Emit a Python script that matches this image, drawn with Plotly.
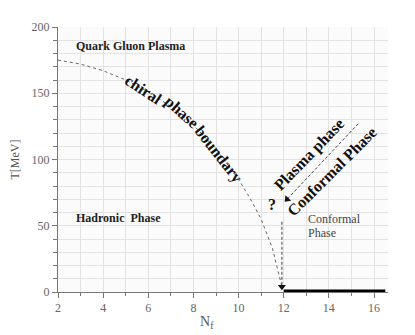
import plotly.graph_objects as go

# chiral phase boundary (dotted curve)
nf_boundary = [2, 3, 4, 5, 6, 7, 8, 9, 10, 10.5, 11, 11.5, 11.92]
t_boundary = [175, 172, 167, 160, 151, 140, 126, 108, 85, 71, 55, 33, 4]

# vertical dashed arrow at the conformal window edge
nf_edge = [11.92, 11.92]
t_edge = [53, 4]

# diagonal dashed arrow (Plasma phase -> Conformal phase)
nf_diag = [15.3, 12.15]
t_diag = [127, 70]

# conformal window bar on the Nf axis
nf_conf = [12, 16.5]
t_conf = [0, 0]

x_ticks = [2, 4, 6, 8, 10, 12, 14, 16]
y_ticks = [0, 50, 100, 150, 200]

SERIF = "Liberation Serif, DejaVu Serif, serif"

fig = go.Figure()
fig.add_trace(go.Scatter(x=nf_boundary, y=t_boundary, mode="lines",
                         line=dict(color="#666", width=1, dash="dot"),
                         hoverinfo="skip", showlegend=False))
fig.add_trace(go.Scatter(x=nf_edge, y=t_edge, mode="lines",
                         line=dict(color="#444", width=1, dash="3px,2px"),
                         hoverinfo="skip", showlegend=False))
fig.add_trace(go.Scatter(x=[nf_edge[-1]], y=[t_edge[-1]], mode="markers",
                         marker=dict(symbol="triangle-down", size=7, color="#111"),
                         hoverinfo="skip", showlegend=False))
fig.add_trace(go.Scatter(x=nf_diag, y=t_diag, mode="lines",
                         line=dict(color="#444", width=1, dash="3px,2px"),
                         hoverinfo="skip", showlegend=False))
fig.add_trace(go.Scatter(x=[nf_diag[-1]], y=[t_diag[-1]], mode="markers",
                         marker=dict(symbol="triangle-down", size=7, color="#111", angle=45),
                         hoverinfo="skip", showlegend=False))
fig.add_trace(go.Scatter(x=nf_conf, y=t_conf, mode="lines",
                         line=dict(color="#000", width=5),
                         cliponaxis=False, hoverinfo="skip", showlegend=False))

ann = []
def add(text, x, y, size, angle=0, bold=True, color="#111", xanchor="center", xref="x", yref="y", **kw):
    ann.append(dict(text=f"<b>{text}</b>" if bold else text, x=x, y=y, xref=xref, yref=yref,
                    showarrow=False, textangle=angle, xanchor=xanchor, yanchor="middle",
                    font=dict(family=SERIF, size=size, color=color), **kw))

add("Quark Gluon Plasma", 2.71, 185.7, 12, xanchor="left", color="#222")
add("Hadronic  Phase", 2.71, 55.8, 12, xanchor="left", color="#222")
add("chiral", 5.77, 152.5, 16, angle=33)
add("phase", 7.45, 135.8, 16, angle=42)
add("boundary", 9.09, 104, 16, angle=52)
add("Plasma phase", 13.12, 103.4, 16, angle=-46)
add("Conformal Phase", 14.14, 90.6, 16, angle=-45)
add("?", 11.48, 65.7, 16)
add("Conformal", 12.99, 55, 12, bold=False, xanchor="left", color="#444")
add("Phase", 12.99, 44.5, 12, bold=False, xanchor="left", color="#444")
add("T[MeV]", 0, 0.5, 12, angle=-90, bold=False, color="#555", xref="paper", yref="paper", xshift=-44)
add("N<sub>f</sub>", 8.6, 0, 14, bold=False, color="#555", yref="paper", yshift=-30)

fig.update_layout(
    width=407, height=327,
    margin=dict(l=50, r=27, t=19, b=43, autoexpand=False),
    paper_bgcolor="white", plot_bgcolor="#fbfbfb",
    annotations=ann,
    xaxis=dict(range=[2, 16.62], tickvals=x_ticks, ticks="outside", ticklen=5, tickcolor="#777",
               showline=True, linecolor="#777", linewidth=1, showgrid=False, zeroline=False,
               tickfont=dict(family=SERIF, size=12, color="#666"),
               minor=dict(dtick=1, tick0=2, showgrid=True, gridcolor="#e3e3e3", gridwidth=1,
                          ticks="outside", ticklen=3, tickcolor="#777")),
    yaxis=dict(range=[0, 200], tickvals=y_ticks, ticks="outside", ticklen=5, tickcolor="#777",
               showline=True, linecolor="#777", linewidth=1, showgrid=True, gridcolor="#e3e3e3",
               zeroline=False, tickfont=dict(family=SERIF, size=12, color="#666"),
               minor=dict(dtick=10, tick0=0, showgrid=True, gridcolor="#e3e3e3", gridwidth=1,
                          ticks="outside", ticklen=4, tickcolor="#777")),
)
fig.write_html("out.html")
